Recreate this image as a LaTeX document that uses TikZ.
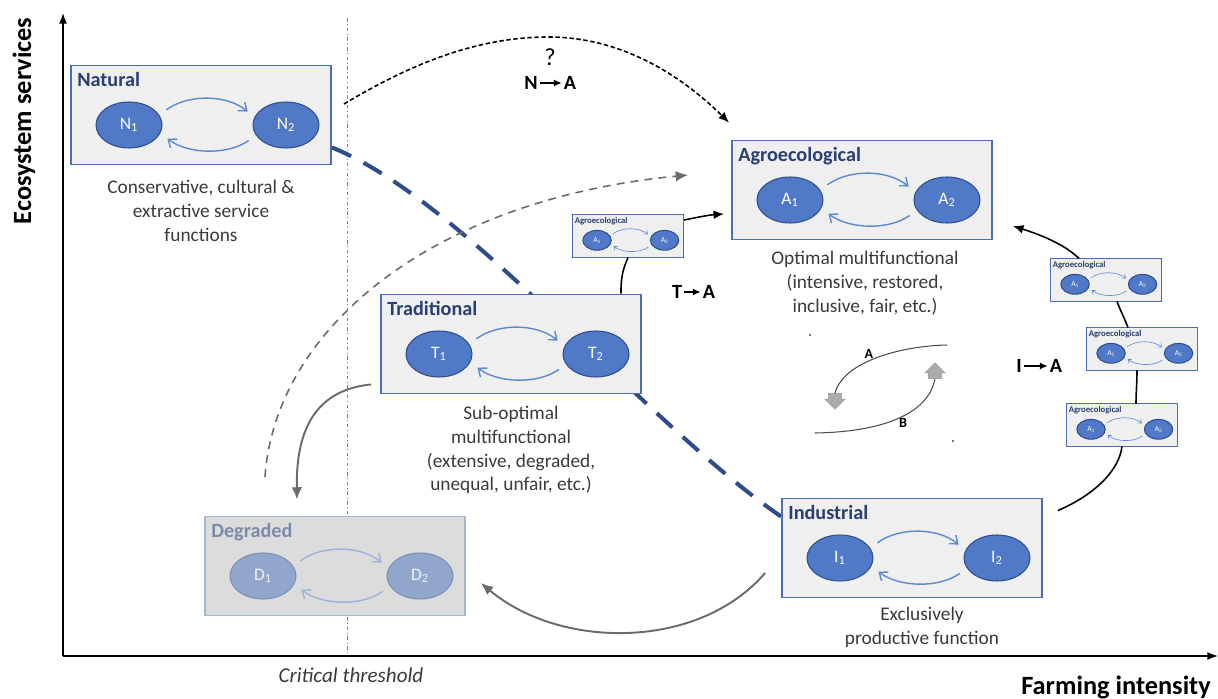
\documentclass[tikz,border=0pt]{standalone}
\usepackage{fontspec}
\setmainfont{Carlito}
\usetikzlibrary{arrows.meta, positioning, shapes.geometric, shapes.arrows, backgrounds}

\definecolor{mainedge}{HTML}{4A6DB8}
\definecolor{mainfill}{HTML}{EFEFEF}
\definecolor{maintitle}{HTML}{283F73}
\definecolor{mainstate}{HTML}{5079C8}
\definecolor{mainrim}{HTML}{2F4E8C}
\definecolor{mainflow}{HTML}{5A8AD6}
\definecolor{maintext}{HTML}{FFFFFF}
\definecolor{degredge}{HTML}{A5B5D6}
\definecolor{degrfill}{HTML}{DCDCDC}
\definecolor{degrtitle}{HTML}{7B8BAC}
\definecolor{degrstate}{HTML}{92A6CC}
\definecolor{degrrim}{HTML}{7C90B8}
\definecolor{degrflow}{HTML}{9DB2DC}
\definecolor{degrtext}{HTML}{EEF1F7}
\definecolor{spinecol}{HTML}{2E4C8A}
\definecolor{inktext}{HTML}{3A3A3A}

\tikzset{
  boxline/.style={line width=1.1pt},
  flowline/.style={line width=0.8pt, shorten <=5pt, shorten >=5pt},
  regbox/.style={draw=#1edge, fill=#1fill, boxline, minimum width=5.2cm, minimum height=1.98cm, inner sep=0pt},
  regtitle/.style={text=#1title, anchor=north west, inner sep=0pt, font=\fontsize{11.5}{13}\selectfont\bfseries},
  regstate/.style={ellipse, draw=#1rim, fill=#1state, text=#1text, line width=0.6pt, minimum width=1.32cm, minimum height=0.92cm, inner sep=0pt, font=\fontsize{10}{12}\selectfont},
  regflow/.style={draw=#1flow, flowline, -{Straight Barb[length=0pt 5, width=0pt 8]}},
  minibox/.style={scale=0.43, transform shape, boxline/.style={line width=0.5pt},
    flowline/.style={line width=0.35pt, shorten <=2.2pt, shorten >=2.2pt}},
  caption/.style={text=inktext, align=center, inner sep=0pt, font=\fontsize{11}{13.6}\selectfont},
  axis/.style={line width=0.8pt, -{Latex[length=6pt, width=4.5pt]}},
  axislabel/.style={font=\fontsize{15}{18}\selectfont\bfseries},
  link/.style={line width=0.9pt},
  flow/.style={link, -{Latex[length=6pt, width=5pt]}},
  dotflow/.style={flow, dash pattern=on 2.5pt off 1.5pt},
  grayflow/.style={draw=black!58, line width=1.1pt, -{Latex[length=7pt, width=6pt]}},
  trans/.style={font=\fontsize{11.5}{13}\selectfont\bfseries, inner sep=1pt},
  transarrow/.style={line width=0.8pt, -{Latex[length=4.5pt, width=4pt]}},
  blk/.style={single arrow, fill=black!33, draw=black!40, line width=0.3pt, minimum height=9pt, inner xsep=0pt, inner ysep=3.6pt, single arrow head extend=2pt},
  minilabel/.style={font=\fontsize{8}{9}\selectfont\bfseries, inner sep=1pt}
}

% one regime: frame, title, two states and the flows between them
\newcommand{\regime}[4]{%
  \node[regbox=#4] (#1) at (0,0) {};
  \node[regtitle=#4] (#1-title) at (-124,-43) {#2};
  \node[regstate=#4] (#1-1) at (-72,10) {#3\textsubscript{1}};
  \node[regstate=#4] (#1-2) at (85,10) {#3\textsubscript{2}};
  \draw[regflow=#4] (#1-1.18) .. controls +(28,-21) and +(-28,-23) .. (#1-2.166);
  \draw[regflow=#4] (#1-2.199) .. controls +(-28,20) and +(28,21) .. (#1-1.345);
}

\begin{document}
\begin{tikzpicture}[x=0.02cm, y=-0.02cm]
  \useasboundingbox (0,0) rectangle (1218,699);

  % axes
  \coordinate (origin) at (63,656);
  \coordinate (ytop) at (63,13);
  \coordinate (xend) at (1218,656);
  \draw[axis] (origin) -- (ytop);
  \draw[axis] (origin) -- (xend);
  \node[axislabel, rotate=90] (ylab) at (24,121) {Ecosystem services};
  \node[axislabel, anchor=base east] (xlab) at (1217,694) {Farming intensity};
  \node[font=\fontsize{12}{14}\selectfont\itshape, text=inktext] (thlab) at (351,675) {Critical threshold};

  % regimes
  \begin{scope}[shift={(201,115)}] \regime{nat}{Natural}{N}{main} \end{scope}
  \begin{scope}[shift={(862,190)}] \regime{agro}{Agroecological}{A}{main} \end{scope}
  \begin{scope}[shift={(511,344)}] \regime{trad}{Traditional}{T}{main} \end{scope}
  \begin{scope}[shift={(912,548)}] \regime{ind}{Industrial}{I}{main} \end{scope}
  \begin{scope}[shift={(335,566)}] \regime{deg}{Degraded}{D}{degr} \end{scope}

  % small agroecological steps
  \begin{scope}[shift={(628,236)}, minibox] \regime{ts}{Agroecological}{A}{main} \end{scope}
  \begin{scope}[shift={(1106,280)}, minibox] \regime{i1}{Agroecological}{A}{main} \end{scope}
  \begin{scope}[shift={(1142,349)}, minibox] \regime{i2}{Agroecological}{A}{main} \end{scope}
  \begin{scope}[shift={(1122,425)}, minibox] \regime{i3}{Agroecological}{A}{main} \end{scope}

  % captions
  \node[caption, below=0.28cm of nat] (natcap) {Conservative, cultural \&\\extractive service\\functions};
  \node[caption, below=0.2cm of agro, xshift=0.06cm] (agrocap) {Optimal multifunctional\\(intensive, restored,\\inclusive, fair, etc.)};
  \node[caption, below=0.22cm of trad] (tradcap) {Sub-optimal\\multifunctional\\(extensive, degraded,\\unequal, unfair, etc.)};
  \node[caption, below=0.17cm of ind, xshift=0.2cm] (indcap) {Exclusively\\productive function};

  % threshold line, trajectory and dashed return (behind the boxes)
  \coordinate (thtop) at (347,18);
  \coordinate (thbot) at (347,656);
  \coordinate (gstart) at (265,477);
  \coordinate (gend) at (688,175);
  \begin{pgfonlayer}{background}
    \draw[black!50, line width=0.4pt, dash pattern=on 2pt off 1.5pt on 0.5pt off 1.5pt] (thtop) -- (thbot);
    \draw[spinecol, line width=2.3pt, dash pattern=on 12pt off 8pt]
      ([yshift=0.36cm]nat.south east) .. controls +(135,55) and +(-142,-98) .. ([yshift=-0.38cm]ind.north west);
    \draw[grayflow, line width=0.9pt, dash pattern=on 4.5pt off 3.5pt] (gstart) .. controls +(10,-147) and +(-258,25) .. (gend);
  \end{pgfonlayer}

  % N -> A
  \coordinate (peak) at (548,37);
  \draw[dotflow] ([xshift=0.24cm,yshift=0.22cm]nat.east) .. controls +(57,-34) and +(-78,0) .. (peak)
    .. controls +(72,0) and +(-50,-49) .. ([xshift=-0.04cm,yshift=0.34cm]agro.north west);
  \node[font=\fontsize{14}{16}\selectfont] (qmark) at (550,57) {?};
  \node[trans] (nN) at (531,83) {N};
  \node[trans] (nA) at (570,83) {A};
  \draw[transarrow] (nN) -- (nA);

  % T -> A
  \draw[link] ([xshift=-0.42cm]trad.north east) .. controls +(0,-20) and +(-4,10) .. (ts.south);
  \draw[flow] ([yshift=0.32cm]ts.east) .. controls +(15,-3) and +(-15,1) .. ([xshift=-0.14cm,yshift=-0.48cm]agro.west);
  \node[trans] (tT) at (677,292) {T};
  \node[trans] (tA) at (709,292) {A};
  \draw[transarrow] (tT) -- (tA);

  % I -> A
  \draw[link] ([xshift=0.3cm,yshift=-0.26cm]ind.north east) .. controls +(35,-15) and +(-3,25) .. (i3.south);
  \draw[link] ([xshift=0.28cm]i3.north) .. controls +(0,-10) and +(0,12) .. ([xshift=-0.1cm]i2.south);
  \draw[link] ([xshift=-0.28cm]i2.north) .. controls +(-3,-8) and +(3,8) .. ([xshift=0.22cm]i1.south);
  \draw[flow] ([xshift=-0.54cm]i1.north) .. controls +(-15,-15) and +(25,8) .. ([xshift=0.4cm,yshift=-0.72cm]agro.east);
  \node[trans] (iI) at (1019,366) {I};
  \node[trans] (iA) at (1056,366) {A};
  \draw[transarrow] (iI) -- (iA);

  % degradation paths
  \draw[grayflow] ([xshift=-0.18cm,yshift=0.2cm]trad.south west) .. controls +(-62,6) and +(-1,-60) .. ([xshift=-0.76cm,yshift=0.32cm]deg.north);
  \draw[grayflow] ([xshift=-0.32cm,yshift=-0.5cm]ind.west) .. controls +(-66,77) and +(80,67) .. ([xshift=0.3cm,yshift=-0.34cm]deg.east);

  % A / B sketch
  \node[blk, rotate=-90] (adown) at (835,398) {};
  \node[blk, rotate=90] (bup) at (935,374) {};
  \coordinate (aend) at (947,345);
  \coordinate (btail) at (815,433);
  \draw[black!70, line width=0.6pt] (adown.west) .. controls (843,362) and (900,346) .. (aend);
  \draw[black!70, line width=0.6pt] (bup.west) .. controls (928,415) and (880,432) .. (btail);
  \node[minilabel] (alab) at (869,354) {A};
  \node[minilabel] (blab) at (903,423) {B};
  \fill[black!70] (810,335) circle (0.7pt) (953,441) circle (0.7pt);
\end{tikzpicture}
\end{document}
